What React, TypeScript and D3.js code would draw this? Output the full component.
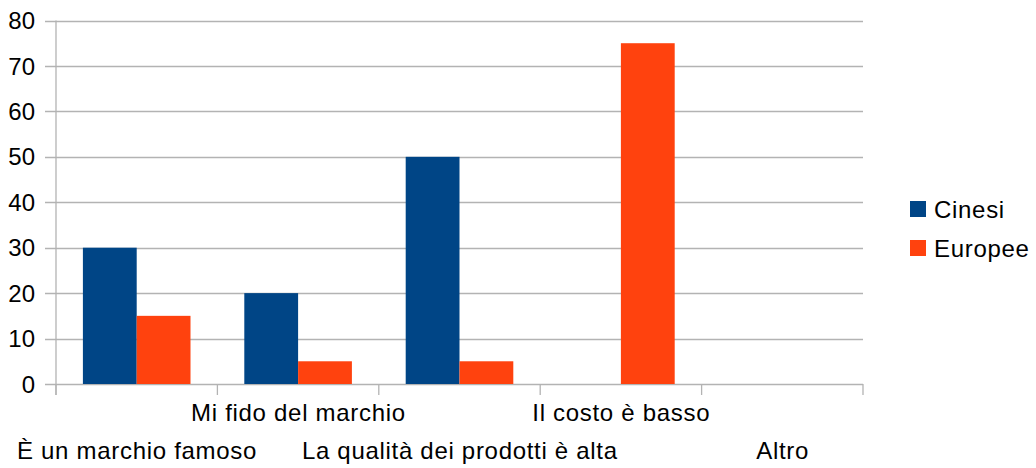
import React from "react";
import * as d3 from "d3";

const categories = [
  "È un marchio famoso",
  "Mi fido del marchio",
  "La qualità dei prodotti è alta",
  "Il costo è basso",
  "Altro",
];
const seriesNames = ["Cinesi", "Europee"];
const cinesi = [30, 20, 50, 0, 0];
const europee = [15, 5, 5, 75, 0];
const yTicks = [0, 10, 20, 30, 40, 50, 60, 70, 80];
const colors = ["#004586", "#ff420e"];

const W = 1036;
const H = 468;
const left = 56;
const right = 863;
const top = 20.5;
const bottom = 384;
const font = "'Liberation Sans', Arial, sans-serif";

export default function App() {
  const x0 = d3.scaleBand<string>().domain(categories).range([left, right]).padding(0);
  const bw = x0.bandwidth();
  const x1 = d3
    .scaleBand<string>()
    .domain(seriesNames)
    .range([bw / 6, (bw * 5) / 6])
    .padding(0);
  const y = d3.scaleLinear().domain([0, 80]).range([bottom, top]);
  const values = [cinesi, europee];
  const grid = "#b3b3b3";
  const spacing = 0.7;

  return (
    <svg
      width={W}
      height={H}
      style={{ position: "absolute", left: 0, top: 0, background: "#fff" }}
      fontFamily={font}
    >
      {yTicks.map((t) => (
        <g key={t}>
          <line x1={left - 11} x2={right} y1={Math.round(y(t)) + 0.5} y2={Math.round(y(t)) + 0.5} stroke={grid} strokeWidth={1.3} />
          <text x={35} y={y(t)} dy="0.36em" textAnchor="end" fontSize={24} fill="#000">
            {t}
          </text>
        </g>
      ))}
      {categories.map((c, i) =>
        seriesNames.map((s, j) => {
          const v = values[j][i];
          if (v <= 0) return null;
          return (
            <rect
              key={c + s}
              x={(x0(c) ?? 0) + (x1(s) ?? 0)}
              y={y(v)}
              width={x1.bandwidth()}
              height={y(0) - y(v)}
              fill={colors[j]}
            />
          );
        })
      )}
      <line x1={left} x2={left} y1={top} y2={bottom + 11} stroke={grid} strokeWidth={1.3} />
      {[...categories.map((c) => x0(c) ?? 0), right].map((xv, i) => (
        <line key={i} x1={xv} x2={xv} y1={bottom} y2={bottom + 11} stroke={grid} strokeWidth={1.3} />
      ))}
      {categories.map((c, i) => (
        <text
          key={c}
          x={(x0(c) ?? 0) + bw / 2 + spacing / 2}
          y={i % 2 === 1 ? 412 : 450}
          dy="0.36em"
          textAnchor="middle"
          fontSize={24}
          letterSpacing={spacing}
          fill="#000"
        >
          {c}
        </text>
      ))}
      {seriesNames.map((s, j) => (
        <g key={s}>
          <rect x={910} y={201 + j * 39} width={16} height={16} fill={colors[j]} />
          <text x={934} y={209 + j * 39} dy="0.36em" fontSize={24} letterSpacing={spacing} fill="#000">
            {s}
          </text>
        </g>
      ))}
    </svg>
  );
}
